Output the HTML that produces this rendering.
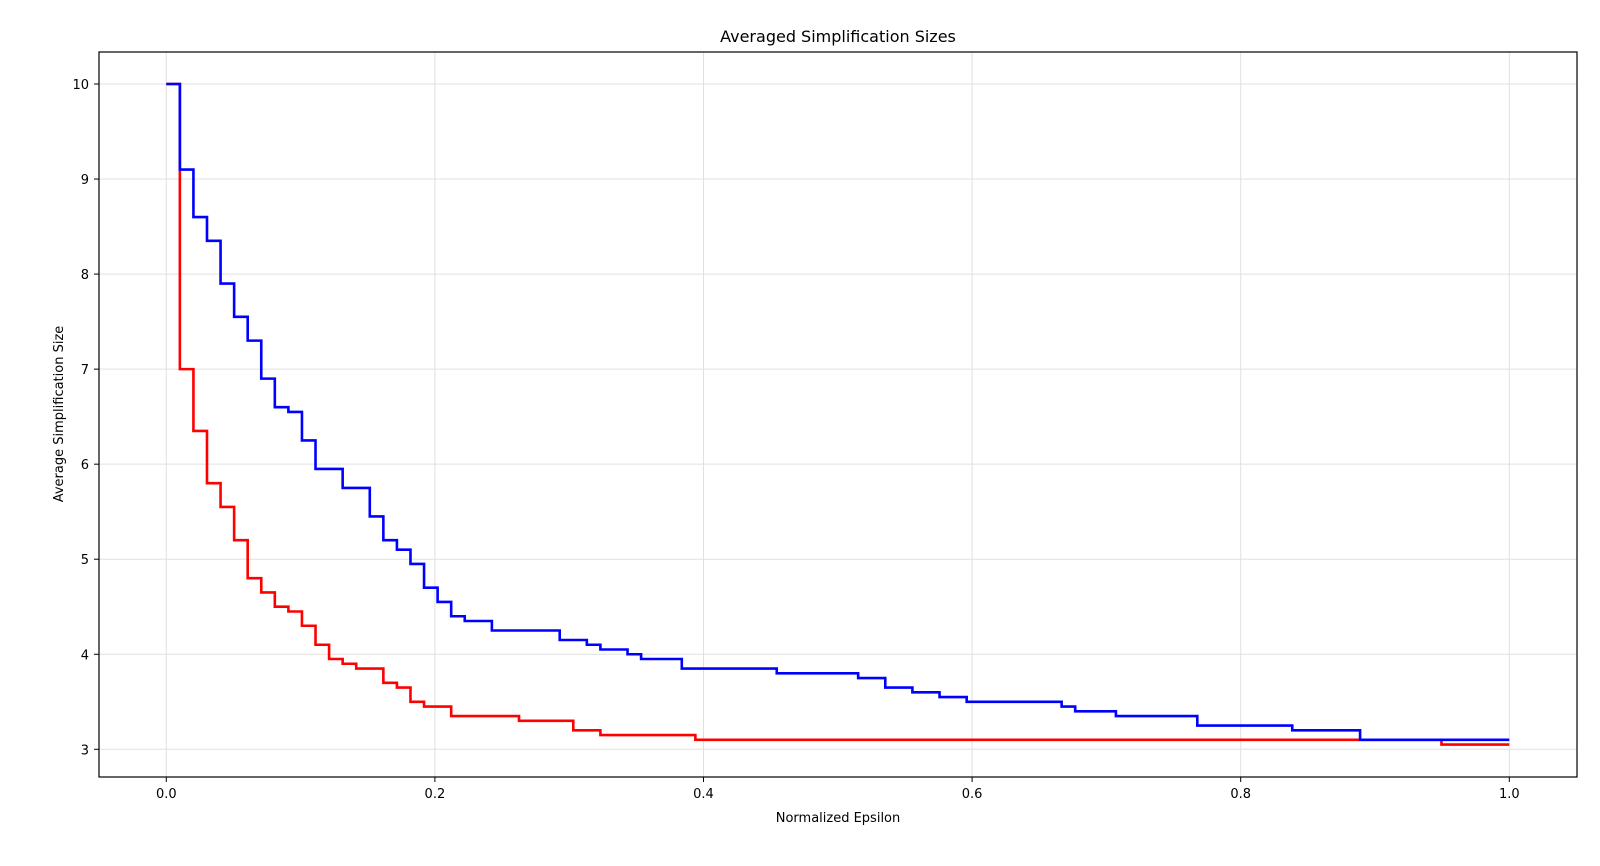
<!DOCTYPE html>
<html><head><meta charset="utf-8"><style>
body{margin:0;background:#fff;}
svg text{font-family:"DejaVu Sans","Liberation Sans",sans-serif;fill:#000;}
</style></head><body>
<svg id="chart" width="1600" height="861" xmlns="http://www.w3.org/2000/svg"></svg>
<script>
const blueX=[0,1,2,3,4,5,6,7,8,9,10,11,13,15,16,17,18,19,20,21,22,24,29,31,32,34,35,38,45,51,53,55,57,59,66,67,70,76,83,88,99];
const blueY=[10,9.1,8.6,8.35,7.9,7.55,7.3,6.9,6.6,6.55,6.25,5.95,5.75,5.45,5.2,5.1,4.95,4.7,4.55,4.4,4.35,4.25,4.15,4.1,4.05,4.0,3.95,3.85,3.8,3.75,3.65,3.6,3.55,3.5,3.45,3.4,3.35,3.25,3.2,3.1,3.1];
const redX=[0,1,2,3,4,5,6,7,8,9,10,11,12,13,14,16,17,18,19,21,26,30,32,39,94,99];
const redY=[10,7.0,6.35,5.8,5.55,5.2,4.8,4.65,4.5,4.45,4.3,4.1,3.95,3.9,3.85,3.7,3.65,3.5,3.45,3.35,3.3,3.2,3.15,3.1,3.05,3.05];
const xTicks=[0,0.2,0.4,0.6,0.8,1.0];
const xTickLabels=["0.0","0.2","0.4","0.6","0.8","1.0"];
const yTicks=[3,4,5,6,7,8,9,10];
const svg=document.getElementById('chart');
const NS='http://www.w3.org/2000/svg';
const L=99,R=1577,T=52,B=777;
const sx=v=>166.3+v*1343;
const sy=v=>749.3-(v-3)*(665.3/7);
function mk(tag,attrs,parent){const e=document.createElementNS(NS,tag);for(const k in attrs)e.setAttribute(k,attrs[k]);(parent||svg).appendChild(e);return e;}
const grid=mk('g',{});


xTicks.forEach((t,i)=>{
  mk('line',{x1:sx(t),x2:sx(t),y1:T,y2:B,stroke:'#e0e0e0','stroke-width':1},grid);
  mk('line',{x1:sx(t),x2:sx(t),y1:B,y2:B+5,stroke:'#000'});
  const tx=mk('text',{x:sx(t),y:B+21,'text-anchor':'middle','font-size':13});
  
  
  tx.textContent=xTickLabels[i];
});
yTicks.forEach(t=>{
  mk('line',{x1:L,x2:R,y1:sy(t),y2:sy(t),stroke:'#e0e0e0','stroke-width':1},grid);
  mk('line',{x1:L-5,x2:L,y1:sy(t),y2:sy(t),stroke:'#000'});
  const tx=mk('text',{x:L-10,y:sy(t)+5,'text-anchor':'end','font-size':13});
  
  
  tx.textContent=String(t);
});
function stepPath(xs,ys){
  let d='';
  for(let i=0;i<xs.length;i++){
    const x=sx(xs[i]/99),y=sy(ys[i]);
    if(i===0)d+=`M${x},${y}`;
    else d+=`L${x},${sy(ys[i-1])}L${x},${y}`;
  }
  return d;
}
const red=mk('path',{d:stepPath(redX,redY),fill:'none',stroke:'#ff0000','stroke-width':2.6});


const blue=mk('path',{d:stepPath(blueX,blueY),fill:'none',stroke:'#0000ff','stroke-width':2.6});


const frame=mk('rect',{x:L,y:T,width:R-L,height:B-T,fill:'none',stroke:'#000','stroke-width':1.2});


const title=mk('text',{x:838,y:42,'text-anchor':'middle','font-size':16});


title.textContent='Averaged Simplification Sizes';
const xl=mk('text',{x:838,y:822,'text-anchor':'middle','font-size':13});


xl.textContent='Normalized Epsilon';
const yl=mk('text',{x:63,y:414,'text-anchor':'middle','font-size':13,transform:'rotate(-90 63 414)'});


yl.textContent='Average Simplification Size';
</script>
</body></html>
